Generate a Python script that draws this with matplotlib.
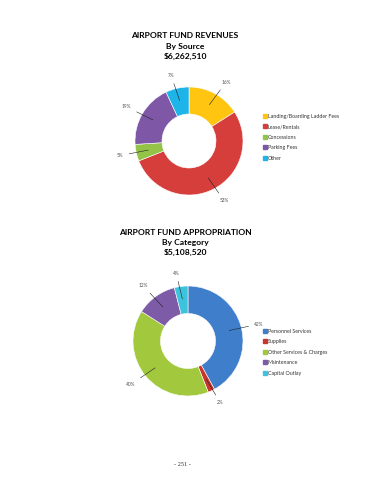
import numpy as np
import matplotlib
matplotlib.use("Agg")
from matplotlib import pyplot as plt
from matplotlib.lines import Line2D

# revenues by source
rev_labels = ["Landing/Boarding Ladder Fees", "Lease/Rentals", "Concessions", "Parking Fees", "Other"]
rev_pct = [16, 53, 5, 19, 7]
rev_colors = ["#FFC510", "#D63E3B", "#93C447", "#7E58A6", "#1DB4EA"]

# appropriation by category
app_labels = ["Personnel Services", "Supplies", "Other Services & Charges", "Maintenance", "Capital Outlay"]
app_pct = [42, 2, 40, 12, 4]
app_colors = ["#3E7ECB", "#C8372F", "#A2C83E", "#7D5BA6", "#3EC3DD"]

W, H = 370, 480
plt.rcParams['font.family'] = ['Lato', 'DejaVu Sans']
fig = plt.figure(figsize=(W / 100, H / 100), dpi=100)
fig.patch.set_facecolor("white")


def donut(cx, cy, r, vals, colors, names, title, ty, leg_y):
    ax = fig.add_axes([(cx - r) / W, (H - cy - r) / H, 2 * r / W, 2 * r / H])
    wedges, _ = ax.pie(vals, colors=colors, startangle=90, counterclock=False,
                       radius=1, wedgeprops=dict(width=0.5, edgecolor="white", linewidth=0.4))
    # pie resets the limits, so put them back afterwards
    ax.set_xlim(-1, 1)
    ax.set_ylim(-1, 1)
    ax.axis("off")
    for w, v in zip(wedges, vals):
        a = np.deg2rad((w.theta1 + w.theta2) / 2)
        x0, y0 = 0.72 * np.cos(a), 0.72 * np.sin(a)
        x1, y1 = 1.24 * np.cos(a), 1.24 * np.sin(a)
        ha = "left" if x1 > 0 else "right"
        ax.annotate("%d%%" % v, xy=(x0, y0), xytext=(x1, y1), fontsize=3.4,
                    color="#505050", ha=ha, va="center", annotation_clip=False,
                    arrowprops=dict(arrowstyle="-", lw=0.4, color="#202020"))
    for i, line in enumerate(title):
        fig.text(185 / W, 1 - (ty + i * 10) / H, line, ha="center", va="center",
                 fontsize=6.1, fontweight="bold", color="black")
    handles = [Line2D([], [], marker="s", ls="", color=c, markersize=2.2) for c in colors]
    fig.legend(handles, names, loc="upper left", bbox_to_anchor=(261 / W, 1 - leg_y / H),
               frameon=False, fontsize=3.8, handlelength=0.5, handletextpad=0.3,
               labelspacing=1.05, borderpad=0, labelcolor="#333333")


donut(189, 141, 54, rev_pct, rev_colors, rev_labels,
      ["AIRPORT FUND REVENUES", "By Source", "$6,262,510"], 36, 111)
donut(188, 341, 55, app_pct, app_colors, app_labels,
      ["AIRPORT FUND APPROPRIATION", "By Category", "$5,108,520"], 232, 326)

fig.text(182 / W, 1 - 464 / H, "- 251 -", ha="center", va="center",
         fontsize=4.5, family="Liberation Serif", color="#333333")

fig.savefig("out.png", dpi=100)
